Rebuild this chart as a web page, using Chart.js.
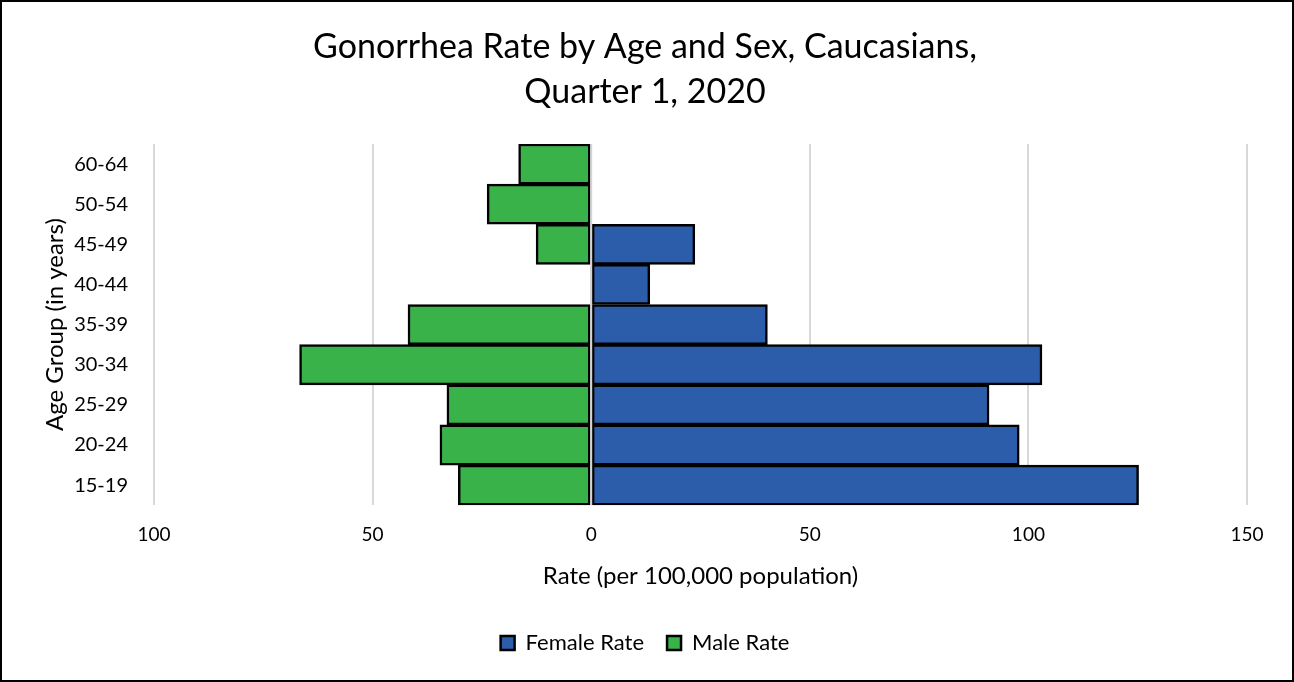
<!DOCTYPE html>
<html>
<head>
<meta charset="utf-8">
<script src="https://cdn.jsdelivr.net/npm/chart.js@4.4.1/dist/chart.umd.min.js"></script>
<style>
  html, body { margin: 0; padding: 0; background: #fff; }
  #box { width: 1294px; height: 682px; }
</style>
</head>
<body>
<div id="box"><canvas id="grafico"></canvas></div>
<script>
// Dados (taxa por 100.000)
const faixas = ['60-64', '50-54', '45-49', '40-44', '35-39', '30-34', '25-29', '20-24', '15-19'];
const taxaFeminina = [0, 0, 23.7, 13.4, 40.3, 103.1, 91.0, 97.9, 125.2];
const taxaMasculina = [16.6, 23.8, 12.6, 0, 41.9, 66.7, 33.0, 34.6, 30.4];
const ticksX = [-100, -50, 0, 50, 100, 150];

const fonte = 'Lato, "Open Sans", sans-serif';

// borda preta em volta da figura + linha do zero por cima das barras
const extras = {
  id: 'extras',
  beforeDraw(chart) {
    const ctx = chart.ctx;
    ctx.save();
    ctx.fillStyle = '#fff';
    ctx.fillRect(0, 0, chart.width, chart.height);
    ctx.restore();
  },
  afterDatasetsDraw(chart) {
    const ctx = chart.ctx;
    const x0 = chart.scales.x.getPixelForValue(0);
    ctx.save();
    ctx.strokeStyle = '#d4d4d4';
    ctx.lineWidth = 2;
    ctx.beginPath();
    ctx.moveTo(x0, chart.chartArea.top);
    ctx.lineTo(x0, chart.chartArea.bottom);
    ctx.stroke();
    ctx.restore();
  },
  afterDraw(chart) {
    const ctx = chart.ctx;
    ctx.save();
    ctx.strokeStyle = '#000';
    ctx.lineWidth = 2;
    ctx.strokeRect(1, 1, chart.width - 2, chart.height - 2);
    ctx.restore();
  }
};

new Chart(document.getElementById('grafico').getContext('2d'), {
  type: 'bar',
  data: {
    labels: faixas,
    datasets: [
      {
        label: 'Female Rate',
        data: taxaFeminina,
        backgroundColor: '#2C5DAA',
        borderColor: '#000',
        borderWidth: 2.5,
        borderSkipped: false
      },
      {
        label: 'Male Rate',
        data: taxaMasculina.map(v => -v),
        backgroundColor: '#39B24A',
        borderColor: '#000',
        borderWidth: 2.5,
        borderSkipped: false
      }
    ]
  },
  options: {
    indexAxis: 'y',
    responsive: true,
    maintainAspectRatio: false,
    animation: false,
    datasets: { bar: { barPercentage: 1, categoryPercentage: 1 } },
    layout: { padding: { left: 43, right: 47, top: 0, bottom: 18 } },
    plugins: {
      title: {
        display: true,
        text: ['Gonorrhea Rate by Age and Sex, Caucasians,', 'Quarter 1, 2020'],
        color: '#000',
        font: { family: fonte, size: 34, weight: 'normal', lineHeight: 45 / 34 },
        padding: { top: 24.5, bottom: 29.5 }
      },
      legend: {
        position: 'bottom',
        labels: {
          color: '#000',
          font: { family: fonte, size: 22 },
          boxWidth: 14,
          boxHeight: 14,
          padding: 23
        }
      },
      tooltip: { enabled: false }
    },
    scales: {
      x: {
        stacked: true,
        min: -100,
        max: 150,
        afterBuildTicks: s => { s.ticks = ticksX.map(v => ({ value: v })); },
        ticks: {
          color: '#000',
          font: { family: fonte, size: 19 },
          padding: 18,
          callback: v => Math.abs(v)
        },
        grid: { color: '#d9d9d9', lineWidth: 2, drawTicks: false },
        border: { display: false },
        title: {
          display: true,
          text: 'Rate (per 100,000 population)',
          color: '#000',
          font: { family: fonte, size: 24, lineHeight: 1 },
          padding: { top: 0, bottom: 21 }
        }
      },
      y: {
        stacked: true,
        afterFit: s => { s.width = 111; },
        ticks: {
          color: '#000',
          font: { family: fonte, size: 20 },
          padding: 18
        },
        grid: { display: false },
        border: { display: false },
        title: {
          display: true,
          text: 'Age Group (in years)',
          color: '#000',
          font: { family: fonte, size: 24, lineHeight: 1 },
          padding: 0
        }
      }
    }
  },
  plugins: [extras]
});
</script>
</body>
</html>
